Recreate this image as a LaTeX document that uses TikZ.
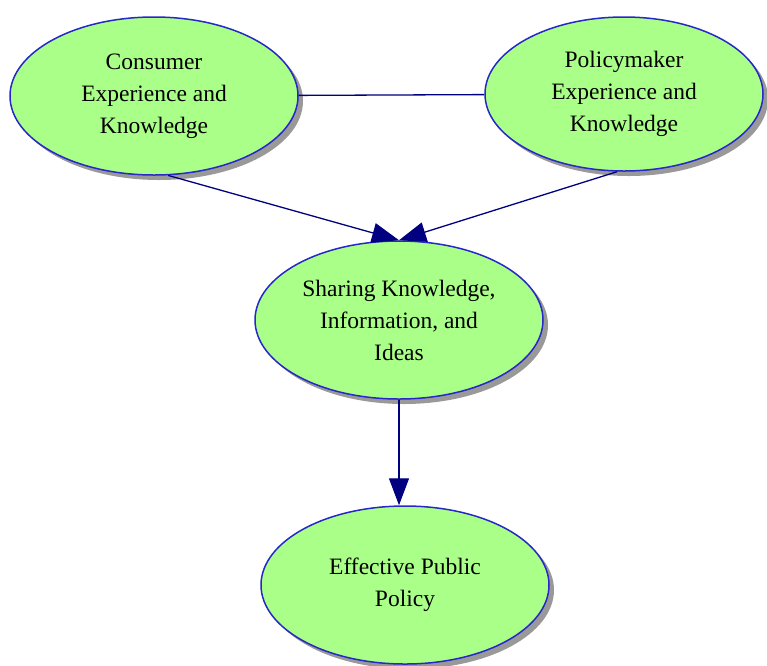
\documentclass[tikz,border=0pt]{standalone}
\usepackage{fontspec}
\setmainfont{Liberation Serif}
\usetikzlibrary{shapes.geometric,arrows.meta,shadows}
\definecolor{bubble}{RGB}{170,255,136}
\definecolor{rim}{RGB}{40,40,200}
\definecolor{link}{RGB}{0,0,128}
\begin{document}
\begin{tikzpicture}[x=1pt,y=-1pt,
    every node/.style={ellipse, draw=rim, line width=1.5pt, fill=bubble, inner sep=0pt,
        minimum width=288pt, minimum height=158pt, align=center,
        font=\fontsize{23.5}{32}\selectfont,
        drop shadow={shadow xshift=5pt, shadow yshift=-5pt, fill=black, opacity=0.4}},
    link/.style={draw=link, line width=1.3pt},
    flow/.style={link, -{Triangle[length=27pt,width=20pt]}}]

    \useasboundingbox (0,0) rectangle (767,665);

    % Sources
    \node (cons) at (154,96)  {Consumer\\Experience and\\Knowledge};
    \node (pol)  at (624,94) [minimum width=278pt, minimum height=154pt] {Policymaker\\Experience and\\Knowledge};

    % Middle and result
    \node (share) at (399,320) {Sharing Knowledge,\\Information, and\\Ideas};
    \node (eff)   at (405,585) {Effective Public\\Policy};

    % Edges
    \draw[link] (cons) -- (pol);
    \draw[flow] (cons.-80) -- (share.north);
    \draw[flow] (pol.-95) -- (share.north);
    \draw[flow] (share.south) -- (share.south |- eff.north);

\end{tikzpicture}
\end{document}
